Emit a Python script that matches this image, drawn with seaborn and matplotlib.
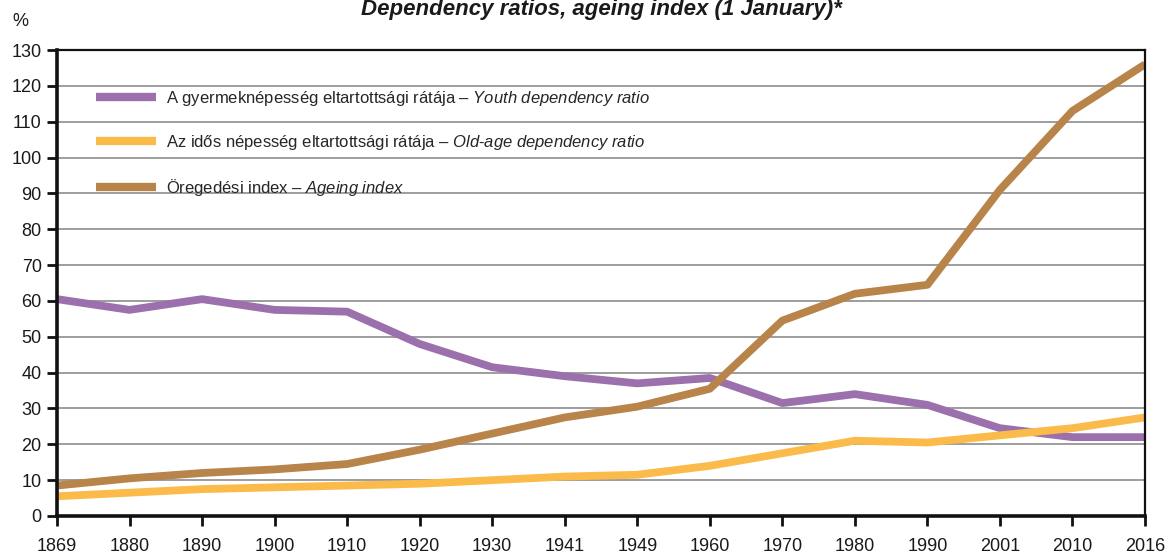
import matplotlib
matplotlib.use("Agg")
import matplotlib.pyplot as plt
import seaborn as sns
import pandas as pd
from matplotlib import font_manager

years = ["1869", "1880", "1890", "1900", "1910", "1920", "1930", "1941",
         "1949", "1960", "1970", "1980", "1990", "2001", "2010", "2016"]
youth = [60.5, 57.5, 60.5, 57.5, 57.0, 48.0, 41.5, 39.0, 37.0, 38.5, 31.5, 34.0, 31.0, 24.5, 22.0, 22.0]
oldage = [5.5, 6.5, 7.5, 8.0, 8.5, 9.0, 10.0, 11.0, 11.5, 14.0, 17.5, 21.0, 20.5, 22.5, 24.5, 27.5]
ageing = [8.5, 10.5, 12.0, 13.0, 14.5, 18.5, 23.0, 27.5, 30.5, 35.5, 54.5, 62.0, 64.5, 91.0, 113.0, 126.0]

labels = ["A gyermeknépesség eltartottsági rátája – $\\it{Youth\\ dependency\\ ratio}$",
          "Az idős népesség eltartottsági rátája – $\\it{Old\\text{-}age\\ dependency\\ ratio}$",
          "Öregedési index – $\\it{Ageing\\ index}$"]
colors = ["#9B70AC", "#FABB4B", "#B8844A"]

sns.set_theme(style="white")
avail = {f.name for f in font_manager.fontManager.ttflist}
fam = [f for f in ["Liberation Sans Narrow", "Liberation Sans", "DejaVu Sans"] if f in avail]
plt.rcParams["font.family"] = fam
plt.rcParams["mathtext.fontset"] = "custom"
plt.rcParams["mathtext.it"] = fam[0] + ":italic"
plt.rcParams["mathtext.rm"] = fam[0]

fig = plt.figure(figsize=(11.68, 5.53), dpi=100)
ax = fig.add_axes([57/1168, 37/553, (1145-57)/1168, (516-50)/553])

xpos = list(range(len(years)))
for vals, lab, col in zip([youth, oldage, ageing], labels, colors):
    df = pd.DataFrame({"x": xpos, "y": vals})
    sns.lineplot(data=df, x="x", y="y", ax=ax, color=col, lw=5.6, label=lab,
                 solid_capstyle="butt", solid_joinstyle="round")

ax.set_xlim(0, len(years) - 1)
ax.set_ylim(0, 130)
ax.set_yticks(range(0, 131, 10))
ax.set_xticks(xpos)
ax.set_xticklabels(years)
ax.set_xlabel("")
ax.set_ylabel("")
ax.grid(axis="y", color="#8c8c8c", lw=1.2)
ax.grid(axis="x", visible=False)
ax.set_axisbelow(True)
for s in ax.spines.values():
    s.set_color("#111111")
    s.set_linewidth(1.6)
ax.spines["left"].set_linewidth(2.6)
ax.spines["bottom"].set_linewidth(2.6)
ax.tick_params(axis="both", which="major", direction="out", length=7, width=2,
               color="#111111", labelsize=13, labelcolor="#1a1a1a",
               left=True, bottom=True)
ax.tick_params(axis="x", pad=9)
ax.tick_params(axis="y", pad=4)

leg = ax.legend(loc="upper left", bbox_to_anchor=(0.03, 0.93), frameon=False,
                fontsize=12, handlelength=3.6, handletextpad=0.6, labelspacing=1.5,
                borderaxespad=0)
for h in leg.get_lines():
    h.set_linewidth(6)

fig.text(0.515, 0.983, "Dependency ratios, ageing index (1 January)*", ha="center", va="center",
         fontsize=16, fontweight="bold", fontstyle="italic", color="#1a1a1a")
fig.text(20/1168, 1 - 22/553, "%", ha="center", va="center", fontsize=13, color="#1a1a1a")

fig.savefig("out.png", dpi=100)
